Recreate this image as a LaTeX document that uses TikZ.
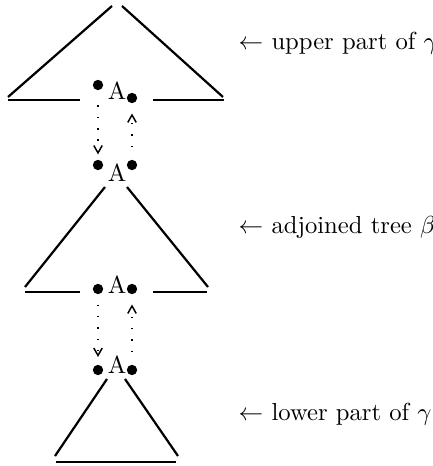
\documentclass[tikz,border=0pt]{standalone}
\usetikzlibrary{calc, arrows.meta}
\begin{document}
\begin{tikzpicture}[x=0.406pt,y=-0.406pt, >={Straight Barb[length=3pt,width=3.4pt]}]
    \useasboundingbox (0,0) rectangle (433,466);

    % Define styles
    \tikzset{
        foot/.style={circle, fill=black, inner sep=0pt, minimum size=4.2pt},
        branch/.style={line width=0.9pt},
        move/.style={line width=0.6pt, loosely dotted, ->},
        caption/.style={anchor=base west}
    }

    % Upper part of gamma
    \draw[branch] (8,97) -- (112,6);
    \draw[branch] (122,6) -- (223,97);
    \draw[branch] (8,100) -- (80,100);
    \draw[branch] (153,100) -- (224,100);
    \node[anchor=base] (Aup) at (117,100) {A};
    \node[foot] (upL) at (98,85) {};
    \node[foot] (upR) at (132,98) {};

    % Adjoined tree beta
    \node[anchor=base] (Aroot) at (117,182) {A};
    \node[foot] (rootL) at (98,165) {};
    \node[foot] (rootR) at (132,165) {};
    \draw[branch] (25,287) -- (105,187);
    \draw[branch] (127,187) -- (208,287);
    \draw[branch] (25,292) -- (80,292);
    \draw[branch] (153,292) -- (207,292);
    \node[anchor=base] (Afoot) at (117,293) {A};
    \node[foot] (footL) at (98,289) {};
    \node[foot] (footR) at (132,289) {};

    % Lower part of gamma
    \node[anchor=base] (Alow) at (117,373) {A};
    \node[foot] (lowL) at (98,370) {};
    \node[foot] (lowR) at (132,370) {};
    \draw[branch] (55,456) -- (107,379);
    \draw[branch] (125,379) -- (178,456);
    \draw[branch] (56,462) -- (176,462);

    % Dotted moves between the trees
    \draw[move, shorten <=6pt, shorten >=2pt] (upL) -- (rootL);
    \draw[move, shorten <=5pt, shorten >=4pt] (rootR) -- (upR);
    \draw[move, shorten <=4pt, shorten >=3pt] (footL) -- (lowL);
    \draw[move, shorten <=5pt, shorten >=4pt] (lowR) -- (footR);

    % Captions
    \node[caption] (capUp) at (230,50) {$\leftarrow$ upper part of $\gamma$};
    \node[caption] (capBeta) at (230,233) {$\leftarrow$ adjoined tree $\beta$};
    \node[caption] (capLow) at (230,420) {$\leftarrow$ lower part of $\gamma$};
\end{tikzpicture}
\end{document}
